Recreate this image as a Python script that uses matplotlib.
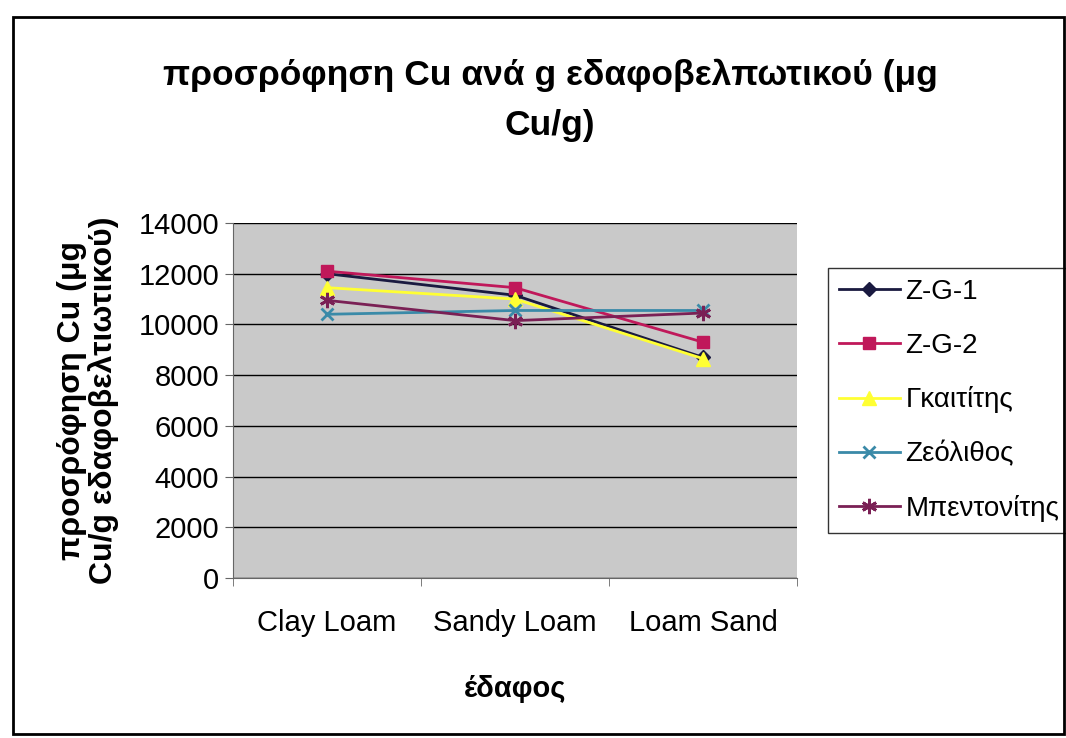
import matplotlib.pyplot as plt
from matplotlib.patches import Rectangle

plt.rcParams['font.family'] = ['Liberation Sans', 'DejaVu Sans']

soils = ['Clay Loam', 'Sandy Loam', 'Loam Sand']
zg1 = [12000, 11150, 8700]
zg2 = [12100, 11450, 9300]
gkaititis = [11450, 11000, 8650]
zeolithos = [10400, 10550, 10550]
mpentonitis = [10950, 10150, 10450]

series = [
    ('Z-G-1', zg1, '#1a1a40', 'D', 7),
    ('Z-G-2', zg2, '#c0185a', 's', 9),
    ('Γκαιτίτης', gkaititis, '#ffff33', '^', 10),
    ('Ζεόλιθος', zeolithos, '#3a8aa8', 'x', 9),
    ('Μπεντονίτης', mpentonitis, '#7a2055', (6, 2, 0), 11),
]

fig = plt.figure(figsize=(10.66, 7.38), dpi=100)
fig.patches.append(Rectangle((0.012, 0.005), 0.986, 0.972, transform=fig.transFigure,
                             fill=False, edgecolor='black', linewidth=2))

ax = fig.add_axes([233 / 1066, 1 - 578 / 738, 564 / 1066, 355 / 738])
ax.set_facecolor('#c9c9c9')
x = range(len(soils))
for name, vals, col, mk, ms in series:
    ax.plot(x, vals, color=col, marker=mk, markersize=ms, linewidth=2,
            markeredgecolor=col, markeredgewidth=2 if mk in ('x', (6, 2, 0)) else 1,
            label=name)

ax.set_ylim(0, 14000)
ax.set_xlim(-0.5, 2.5)
ax.set_yticks(range(0, 14001, 2000))
ax.yaxis.grid(True, color='black', linewidth=1)
ax.set_axisbelow(True)
ax.set_xticks([0, 1, 2])
ax.set_xticklabels(soils)
ax.set_xticks([-0.5, 0.5, 1.5, 2.5], minor=True)
ax.tick_params(axis='x', which='major', length=0, pad=22, labelsize=21)
ax.tick_params(axis='x', which='minor', length=6, color='#666666')
ax.tick_params(axis='y', length=6, color='#666666', labelsize=21, pad=4)
for s in ['top', 'right']:
    ax.spines[s].set_visible(False)
ax.spines['left'].set_color('#666666')
ax.spines['bottom'].set_color('#666666')

ax.set_xlabel('έδαφος', fontsize=21, fontweight='bold', labelpad=28)
ax.set_ylabel('προσρόφηση Cu (μg\nCu/g εδαφοβελτιωτικού)', fontsize=23,
              fontweight='bold', labelpad=14, linespacing=1.05)

fig.text(0.516, 0.864, 'προσρόφηση Cu ανά g εδαφοβελπωτικού (μg\nCu/g)', ha='center',
         va='center', fontsize=25.5, fontweight='bold', linespacing=1.65)

leg = ax.legend(loc='center left', bbox_to_anchor=(1.03, 0.5), fontsize=20,
                frameon=True, fancybox=False, edgecolor='black', handlelength=2.2,
                handletextpad=0.2, labelspacing=1.0, borderpad=0.4)
leg.get_frame().set_linewidth(1)

fig.savefig('out.png', dpi=100)
